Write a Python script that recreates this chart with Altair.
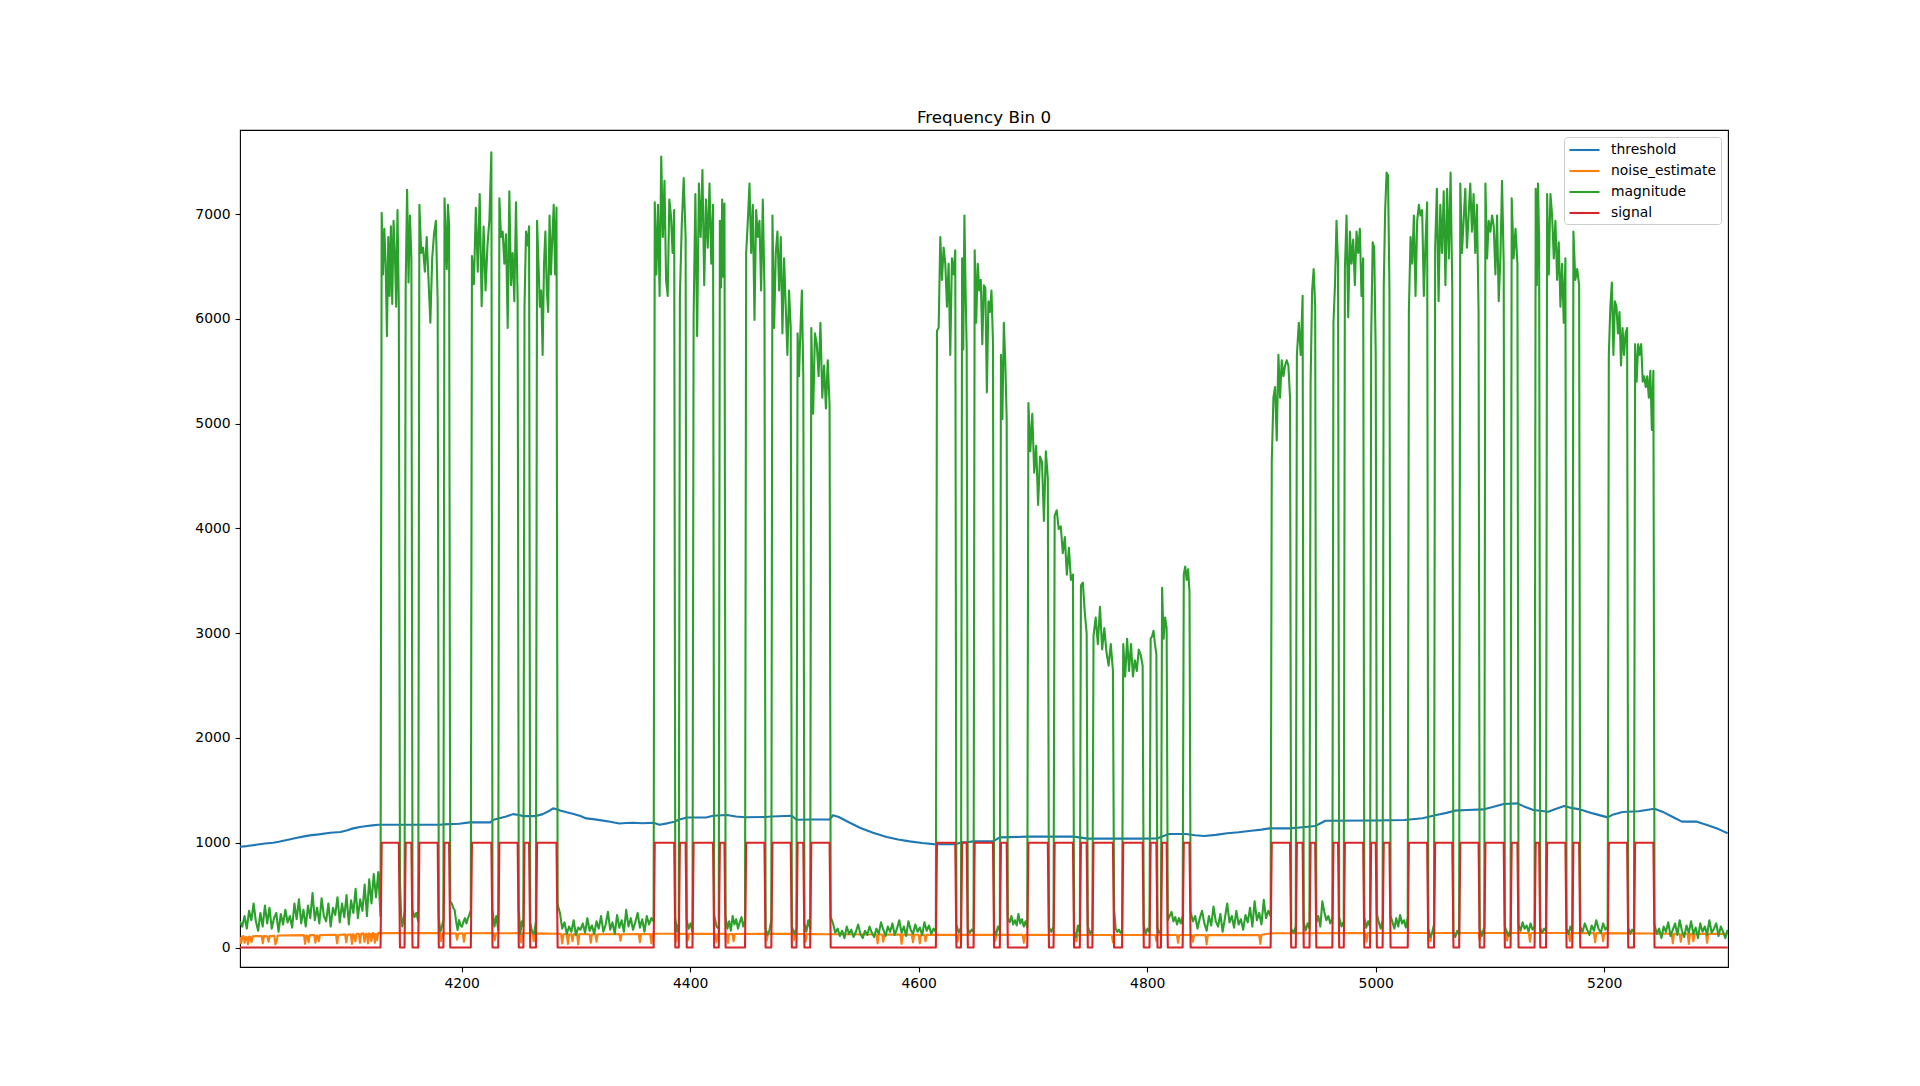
import altair as alt
import pandas as pd

# ---------------- axes ----------------
X_MIN, X_MAX = 4006, 5308.3
Y_MIN, Y_MAX = -186, 7802
x_ticks = [4200, 4400, 4600, 4800, 5000, 5200]
y_ticks = [0, 1000, 2000, 3000, 4000, 5000, 6000, 7000]
series_names = ["threshold", "noise_estimate", "magnitude", "signal"]
series_colors = ["#1f77b4", "#ff7f0e", "#2ca02c", "#d62728"]
chart_title = "Frequency Bin 0"

# ---------------- signal (on-runs, inclusive) ----------------
SIGNAL_ON = 1000
on_start = [4130, 4151, 4163, 4185, 4209, 4233, 4255, 4266, 4369, 4391, 4403, 4426, 4449, 4472, 4494,
            4506, 4616, 4638, 4649, 4672, 4696, 4719, 4742, 4753, 4779, 4803, 4813, 4832, 4909, 4931,
            4943, 4963, 4973, 4996, 5007, 5029, 5052, 5074, 5096, 5119, 5140, 5150, 5173, 5204, 5227]
on_end = [4145, 4156, 4179, 4189, 4226, 4249, 4259, 4283, 4386, 4396, 4420, 4430, 4465, 4488, 4499,
          4522, 4632, 4642, 4665, 4677, 4713, 4735, 4747, 4770, 4796, 4808, 4817, 4837, 4925, 4936,
          4947, 4967, 4989, 5000, 5012, 5045, 5067, 5090, 5112, 5124, 5143, 5166, 5178, 5220, 5243]

# ---------------- threshold ----------------
threshold_points = [
    (4006, 961), (4012, 968), (4020, 980), (4028, 992), (4035, 1000), (4040, 1010), (4048, 1028),
    (4055, 1045), (4061, 1058), (4067, 1070), (4075, 1080), (4085, 1095), (4094, 1102), (4100, 1120),
    (4105, 1137), (4111, 1150), (4117, 1159), (4122, 1166), (4127, 1172), (4181, 1172), (4184, 1175),
    (4198, 1181), (4207, 1194), (4225, 1194), (4228, 1219), (4232, 1232), (4239, 1251), (4245, 1273),
    (4250, 1265), (4254, 1254), (4265, 1254), (4271, 1273), (4276, 1300), (4280, 1328), (4284, 1318),
    (4286, 1307), (4292, 1290), (4298, 1275), (4304, 1255), (4309, 1232), (4315, 1225), (4321, 1216),
    (4330, 1200), (4338, 1184), (4344, 1188), (4350, 1190), (4358, 1186), (4368, 1190), (4373, 1172),
    (4380, 1185), (4386, 1200), (4390, 1220), (4397, 1241), (4414, 1241), (4420, 1257), (4432, 1264),
    (4440, 1250), (4448, 1243), (4466, 1245), (4471, 1250), (4489, 1258), (4493, 1220), (4505, 1222),
    (4522, 1222), (4525, 1262), (4530, 1245), (4538, 1200), (4549, 1140), (4560, 1095), (4572, 1054),
    (4582, 1030), (4592, 1013), (4603, 998), (4613, 987), (4632, 985), (4637, 1003), (4642, 1005),
    (4648, 1013), (4665, 1013), (4671, 1051), (4695, 1058), (4736, 1058), (4748, 1039), (4793, 1039),
    (4809, 1042), (4819, 1083), (4834, 1083), (4842, 1072), (4850, 1064), (4860, 1075), (4870, 1090),
    (4880, 1100), (4891, 1115), (4900, 1125), (4907, 1137), (4925, 1137), (4936, 1148), (4947, 1160),
    (4956, 1210), (5000, 1212), (5025, 1217), (5041, 1233), (5053, 1264), (5062, 1285), (5069, 1306),
    (5080, 1312), (5094, 1318), (5104, 1345), (5112, 1369), (5124, 1376), (5131, 1340), (5138, 1312),
    (5151, 1296), (5158, 1325), (5165, 1350), (5172, 1330), (5179, 1318), (5190, 1280), (5203, 1242),
    (5208, 1270), (5216, 1293), (5230, 1300), (5244, 1325), (5252, 1290), (5260, 1245), (5268, 1201),
    (5281, 1201), (5290, 1170), (5300, 1130), (5308, 1090),
]

# ---------------- noise estimate ----------------
noise_points = [
    (4006, 100), (4007, 40), (4008, 105), (4009, 110), (4010, 45), (4011, 100), (4012, 95), (4013, 30),
    (4014, 105), (4015, 100), (4016, 50), (4017, 108), (4025, 110), (4026, 40), (4027, 112), (4030, 105),
    (4031, 55), (4032, 110), (4036, 112), (4037, 30), (4038, 60), (4039, 115), (4062, 118), (4063, 35),
    (4064, 115), (4065, 110), (4066, 50), (4067, 118), (4071, 120), (4072, 45), (4073, 115), (4074, 112),
    (4075, 60), (4076, 120), (4090, 122), (4091, 40), (4092, 120), (4098, 125), (4099, 50), (4100, 122),
    (4103, 125), (4104, 35), (4105, 128), (4106, 115), (4107, 60), (4108, 130), (4110, 132), (4111, 45),
    (4112, 130), (4114, 135), (4115, 55), (4116, 130), (4117, 128), (4118, 40), (4119, 135), (4120, 130),
    (4121, 60), (4122, 138), (4123, 135), (4124, 45), (4125, 130), (4126, 70), (4127, 140), (4129, 140),
    (4130, 137), (4181, 137), (4182, 60), (4183, 135), (4195, 136), (4196, 75), (4197, 134), (4201, 135),
    (4202, 55), (4203, 136), (4228, 137), (4229, 70), (4230, 136), (4251, 137), (4252, 50), (4253, 136),
    (4262, 136), (4263, 60), (4264, 135), (4284, 132), (4287, 128), (4288, 40), (4289, 126), (4292, 128),
    (4293, 35), (4294, 125), (4296, 127), (4297, 60), (4298, 128), (4301, 126), (4302, 30), (4303, 128),
    (4312, 127), (4313, 45), (4314, 126), (4317, 128), (4318, 55), (4319, 127), (4338, 128), (4339, 65),
    (4340, 127), (4355, 129), (4356, 50), (4357, 128), (4365, 128), (4366, 40), (4367, 130), (4369, 131),
    (4387, 131), (4388, 60), (4389, 130), (4397, 131), (4398, 70), (4399, 130), (4422, 131), (4423, 55),
    (4424, 130), (4432, 130), (4433, 45), (4434, 128), (4437, 129), (4438, 60), (4439, 129), (4466, 130),
    (4467, 65), (4468, 130), (4490, 130), (4491, 70), (4492, 129), (4500, 129), (4501, 55), (4502, 129),
    (4523, 127), (4563, 124), (4564, 40), (4565, 124), (4568, 124), (4569, 55), (4570, 124), (4584, 123),
    (4585, 35), (4586, 123), (4594, 122), (4595, 50), (4596, 122), (4600, 122), (4601, 40), (4602, 122),
    (4605, 121), (4606, 60), (4607, 121), (4633, 121), (4634, 55), (4635, 121), (4666, 121), (4667, 65),
    (4668, 121), (4691, 121), (4692, 45), (4693, 121), (4737, 120), (4738, 60), (4739, 120), (4769, 120),
    (4770, 50), (4771, 120), (4807, 120), (4808, 65), (4809, 120), (4826, 119), (4827, 45), (4828, 119),
    (4839, 119), (4840, 55), (4841, 118), (4851, 118), (4852, 30), (4853, 118), (4898, 120), (4899, 35),
    (4900, 121), (4909, 136), (4991, 138), (4992, 55), (4993, 138), (5047, 139), (5048, 60), (5049, 139),
    (5090, 139), (5091, 70), (5092, 139), (5114, 139), (5115, 65), (5116, 139), (5134, 138), (5135, 55),
    (5136, 138), (5169, 138), (5170, 60), (5171, 138), (5191, 137), (5192, 50), (5193, 137), (5198, 137),
    (5199, 60), (5200, 137), (5244, 134), (5259, 132), (5260, 40), (5261, 132), (5266, 131), (5267, 55),
    (5268, 131), (5273, 131), (5274, 35), (5275, 131), (5277, 131), (5278, 60), (5279, 131), (5289, 130),
    (5290, 45), (5291, 130), (5308, 130),
]

# ---------------- magnitude: values read along each on-run ----------------
mag_on = [
    [7011, 6423, 6858, 6526, 5835, 6781, 6219, 6884, 6142, 6935, 6628, 6116, 7037, 6116],
    [6321, 7231, 6347, 6986, 6577],
    [7088, 6628, 6679, 6449, 6781, 6372, 5963, 6577, 6807, 6935, 6167],
    [7149, 6800, 6474, 7088, 6900],
    [6600, 6330, 7060, 6450, 7190, 6120, 6880, 6270, 6700, 6950, 7590],
    [7149, 6781, 6832, 6526, 6807, 5912, 7216, 6321, 6628, 6167, 7113, 6167],
    [6116, 6832, 6700, 6884],
    [6935, 6526, 6116, 6270, 5656, 6526, 6832, 6270, 6065, 6986, 6423, 6781, 7088, 6423, 7062],
    [7113, 6423, 7088, 6219, 7548, 6781, 7318, 6372, 6219, 7139, 6986, 6628, 7037],
    [6219, 6909, 7344, 6781],
    [6014, 7190, 5835, 7292, 6781, 7420, 6321, 7139, 6679, 7292, 6526, 7088],
    [6935, 6300, 7139, 6400, 7100],
    [6628, 6935, 7292, 6628, 7088, 5989, 7037, 6781, 6935, 6270, 7139, 6295],
    [6986, 5912, 6628, 6832, 6270, 6781, 5861, 6577, 6116, 5656, 6270, 5912],
    [5861, 5452, 5900, 6270, 5452],
    [5912, 5094, 5861, 5758, 5452, 5963, 5247, 5554, 5145, 5605, 5170],
    [5886, 5912, 6781, 6372, 6679, 6526, 6116, 6526, 5656, 6577, 6423, 6653],
    [6577, 5707, 6986, 6300, 5707],
    [6653, 5963, 6526, 6270, 6372, 5758, 6321, 6295, 5298, 6167, 6065, 6270, 5784],
    [5656, 5043, 5963, 5600, 5043],
    [5196, 4736, 5094, 4531, 4787, 4224, 4685, 4634, 4071, 4736, 4480],
    [4122, 4173, 3994, 4020, 3764, 3917, 3559, 3815, 3508, 3559],
    [3457, 3483, 3201, 2997],
    [2971, 3150, 2895, 3252, 2844, 3048, 2818, 2690, 2895, 2639],
    [2895, 2588, 2946, 2639, 2895, 2588, 2741, 2639, 2844, 2792, 2690],
    [2946, 2971, 3022, 2900, 2800],
    [3432, 2946, 3150, 3048],
    [3559, 3636, 3508, 3610, 3400],
    [4634, 5247, 5349, 4838, 5656, 5247, 5605, 5452, 5554, 5605, 5554, 5247],
    [5656, 5963, 5656, 6219],
    [5400, 6270, 6474, 6116],
    [5963, 6321, 6935, 6526],
    [6474, 6986, 6014, 6832, 6526, 6756, 6321, 6832, 6628, 6858, 6219, 6577],
    [5810, 6730, 6679, 5656],
    [6300, 7037, 7395, 7369, 6270],
    [6065, 6781, 6526, 6986, 6219, 6935, 7088, 6986, 7037, 6219, 6730, 7113],
    [6679, 7241, 6167, 7088, 6628, 7216, 6321, 7241, 6577, 7395, 6270],
    [7292, 6628, 6935, 7241, 6679, 6986, 7292, 6832, 7190, 6628, 7088, 6065],
    [7292, 6577, 6935, 6832, 6986, 6884, 6423, 6986, 6167, 6577, 7318, 6526],
    [7150, 6577, 6858, 6526],
    [7241, 6321, 7292, 6730],
    [7190, 6423, 7190, 6986, 6577, 6935, 6372, 6730, 6116, 6526, 5963, 6577],
    [6832, 6372, 6474, 6321],
    [5656, 6116, 6347, 5656, 6167, 6116, 5861, 6065, 5554, 5912, 5656, 5861, 5912],
    [5758, 5400, 5758, 5656, 5758, 5400, 5452, 5349, 5452, 5247, 5503, 4940, 5503],
]

# ---------------- magnitude: values read along each off-run (gaps) ----------------
mag_off = [
    [250, 200, 300, 180, 350, 260, 420, 250, 160, 330, 200, 400, 230, 380, 180, 280, 330, 150, 320, 220,
     360, 240, 300, 190, 420, 270, 460, 230, 360, 200, 400, 280, 520, 260, 380, 230, 470, 300, 250, 420,
     200, 380, 310, 480, 240, 420, 290, 500, 220, 450, 330, 560, 280, 460, 350, 600, 300, 650, 420, 700,
     480, 720, 300],
    [640, 300, 200, 260, 350],
    [360, 290, 330, 250],
    [280, 150, 200, 260],
    [440, 421, 380, 358, 250, 167, 262, 210, 199, 246, 280, 230, 278, 310, 358],
    [358, 200, 300, 170],
    [360, 130, 250, 200],
    [240, 150, 130, 250],
    [410, 330, 180, 240, 130, 200, 150, 260, 120, 190, 170, 230, 140, 280, 160, 210, 130, 250, 180, 300,
     150, 220, 340, 170, 240, 130, 310, 190, 260, 150, 360, 200, 280, 170, 240, 330, 190, 270, 150, 300,
     220, 280, 250],
    [280, 150, 230],
    [260, 180, 230, 150],
    [310, 200, 180],
    [290, 180, 250, 160, 300, 220, 270, 180, 240, 290, 200, 260],
    [180, 120, 160, 260],
    [200, 130, 180],
    [230, 150, 260, 180],
    [290, 230, 140, 180, 110, 160, 90, 200, 130, 170, 100, 150, 220, 130, 90, 160, 120, 200, 140, 100,
     180, 130, 240, 170, 110, 200, 150, 230, 120, 180, 260, 140, 200, 110, 250, 170, 130, 220, 150, 190,
     120, 240, 160, 210, 130, 180, 150],
    [220, 140, 190],
    [180, 140, 170, 150],
    [170, 120, 200, 160],
    [280, 240, 300, 220, 260, 210, 320, 230, 270, 200, 250, 190],
    [190, 150, 200],
    [150, 100, 210, 130],
    [200, 130, 170],
    [360, 180, 150, 170, 140, 160],
    [210, 130, 180, 150],
    [190, 140, 160],
    [260, 300, 340, 250, 290, 220, 280, 230, 300],
    [340, 250, 300, 180, 280, 350, 230, 160, 300, 210, 390, 250, 200, 320, 150, 280, 420, 240, 300, 190,
     350, 220, 270, 170, 310, 240, 380, 200, 440, 260, 330, 220, 455, 280, 350, 300],
    [180, 140, 200],
    [240, 160, 230, 180],
    [240, 300, 200, 440, 340, 260, 300, 230, 280],
    [290, 200, 250],
    [290, 190, 250, 200],
    [320, 240, 180, 260],
    [300, 240, 180, 280, 200, 310, 230, 260, 190, 290],
    [180, 100, 140, 220],
    [140, 100, 160, 120],
    [180, 110, 200],
    [200, 150, 110, 170],
    [220, 160, 240, 180, 210, 150, 230, 170, 200],
    [190, 140, 180, 160],
    [180, 130, 200, 150],
    [200, 150, 230, 170, 120, 210, 160, 260, 180, 140, 230, 170, 200],
    [190, 130, 170, 150],
    [220, 130, 180, 90, 200, 150, 240, 110, 170, 230, 120, 260, 160, 100, 210, 140, 250, 130, 190, 90,
     230, 150, 200, 120, 260, 140, 180, 230, 110, 200, 150, 90, 170],
]

assert len(on_start) == len(on_end) == len(mag_on) == 45
assert len(mag_off) == 46

# ---------------- build long table ----------------
rows = []
for x, y in threshold_points:
    rows.append({"x": x, "y": y, "series": "threshold"})
for x, y in noise_points:
    rows.append({"x": x, "y": y, "series": "noise_estimate"})


def place(a, b, vals):
    n = len(vals)
    for i, v in enumerate(vals):
        xx = a if n == 1 else a + i * (b - a) / (n - 1)
        rows.append({"x": xx, "y": v, "series": "magnitude"})


int_x_min, int_x_max = 4006, 5308
off_bounds = [(int_x_min, on_start[0] - 1)]
for k in range(1, len(on_start)):
    off_bounds.append((on_end[k - 1] + 1, on_start[k] - 1))
off_bounds.append((on_end[-1] + 1, int_x_max))

for k in range(len(on_start)):
    place(off_bounds[k][0], off_bounds[k][1], mag_off[k])
    place(on_start[k], on_end[k], mag_on[k])
place(off_bounds[-1][0], off_bounds[-1][1], mag_off[-1])

for x in range(int_x_min, int_x_max + 1):
    on = any(s <= x <= e for s, e in zip(on_start, on_end))
    rows.append({"x": x, "y": SIGNAL_ON if on else 0, "series": "signal"})

df = pd.DataFrame(rows)

FONT = "DejaVu Sans"

x_enc = alt.X("x:Q", scale=alt.Scale(domain=[X_MIN, X_MAX], nice=False, zero=False),
              axis=alt.Axis(values=x_ticks, format="d", title=None))
y_enc = alt.Y("y:Q", scale=alt.Scale(domain=[Y_MIN, Y_MAX], nice=False, zero=False),
              axis=alt.Axis(values=y_ticks, format="d", title=None))
color_enc = alt.Color(
    "series:N",
    scale=alt.Scale(domain=series_names, range=series_colors),
    legend=alt.Legend(
        title=None, orient="top-right", offset=7,
        fillColor="white", strokeColor="#cccccc", cornerRadius=3, padding=4,
        symbolType="M-1,0L3,0", symbolSize=225, symbolStrokeWidth=2.1,
        labelFont=FONT, labelFontSize=13.9, labelColor="black", labelOffset=25,
        rowPadding=5, labelLimit=300,
    ),
)

base = alt.Chart(df)
layers = []
for name in series_names:
    layers.append(
        base.transform_filter(alt.datum.series == name)
        .mark_line(strokeWidth=2.1, strokeJoin="round", clip=True)
        .encode(x=x_enc, y=y_enc, color=color_enc)
    )

chart = (
    alt.layer(*layers)
    .properties(
        width=1488, height=837,
        title=alt.TitleParams(chart_title, font=FONT, fontSize=16.7, fontWeight="normal",
                              color="black", anchor="middle", baseline="alphabetic", offset=-9.5),
        autosize=alt.AutoSizeParams(type="none"),
        padding={"left": 240, "top": 130, "right": 192, "bottom": 119},
        background="white",
    )
    .configure_view(stroke="black", strokeWidth=1.1)
    .configure_axis(domain=False, grid=False, tickColor="black", tickWidth=1.1, tickSize=4.9,
                    labelPadding=4.9, labelFont=FONT, labelFontSize=13.9, labelColor="black")
)

chart.save("out.html", embed_options={"renderer": "svg", "actions": False})
